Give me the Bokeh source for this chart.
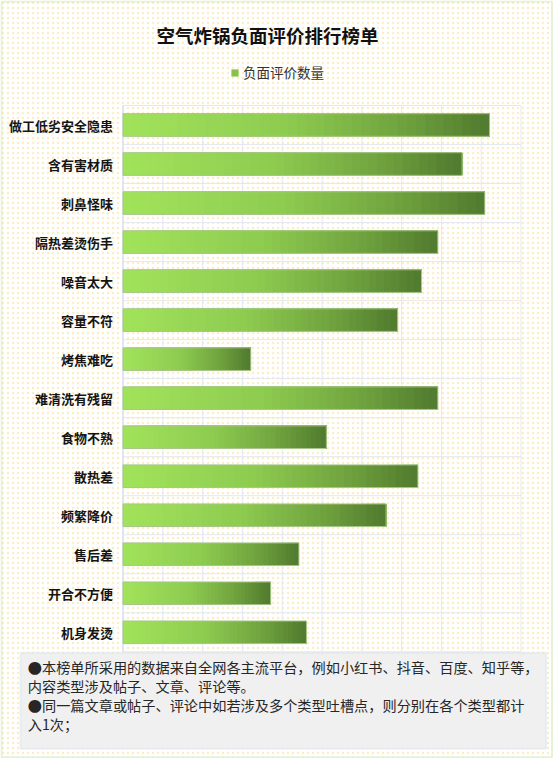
from bokeh.plotting import figure
from bokeh.models import (Range1d, ColumnDataSource, BoxAnnotation, Label, Legend, LegendItem)
from bokeh.core.properties import value
from bokeh.embed import file_html
from bokeh.resources import INLINE

# ---------------- data ----------------
title_text = "空气炸锅负面评价排行榜单"
series_name = "负面评价数量"
categories = ["做工低劣安全隐患", "含有害材质", "刺鼻怪味", "隔热差烫伤手", "噪音太大",
              "容量不符", "烤焦难吃", "难清洗有残留", "食物不熟", "散热差",
              "频繁降价", "售后差", "开合不方便", "机身发烫"]
values = [92.1, 85.2, 90.9, 79.1, 75.0, 69.0, 32.1, 79.1, 51.1, 74.1, 66.1, 44.2, 37.1, 46.1]
x_ticks = [0, 10, 20, 30, 40, 50, 60, 70, 80, 90, 100]
notes = ["●本榜单所采用的数据来自全网各主流平台，例如小红书、抖音、百度、知乎等，",
         "内容类型涉及帖子、文章、评论等。",
         "●同一篇文章或帖子、评论中如若涉及多个类型吐槽点，则分别在各个类型都计",
         "入1次；"]

# ---------------- layout (page pixels) ----------------
W, H = 553, 758          # canvas size
OX, OY = 0, 0            # page position of the canvas origin
PX0, PX1 = 122.5, 520.5  # page x of first / last value gridline
PY_TOP, PY_BOT = 105.0, 651.3  # page y of plot area top / bottom

n = len(categories)
sx = (PX1 - PX0) / (x_ticks[-1] - x_ticks[0])
sy = (PY_BOT - PY_TOP) / n
x_range = Range1d(x_ticks[0] + (OX - PX0) / sx, x_ticks[0] + (OX + W - PX0) / sx)
y_range = Range1d((PY_BOT - (OY + H)) / sy, (PY_BOT - OY) / sy)

y_pos = [n - 0.5 - j for j in range(n)]

# gradient colours (left light -> right dark)
stops = [(0.0, "#a2e35b"), (0.45, "#8dcb50"), (0.75, "#71a43f"), (1.0, "#507a2e")]


def hex2rgb(h):
    h = h.lstrip("#")
    return [int(h[i:i + 2], 16) for i in (0, 2, 4)]


def grad(t):
    for (t0, c0), (t1, c1) in zip(stops[:-1], stops[1:]):
        if t <= t1:
            f = (t - t0) / (t1 - t0) if t1 > t0 else 0
            a, b = hex2rgb(c0), hex2rgb(c1)
            return "#%02x%02x%02x" % tuple(round(a[k] + (b[k] - a[k]) * f) for k in range(3))
    return stops[-1][1]


N = 40
seg = dict(y=[], left=[], right=[], color=[])
for yv, v in zip(y_pos, values):
    for i in range(N):
        seg["y"].append(yv)
        seg["left"].append(v * i / N)
        seg["right"].append(v)
        seg["color"].append(grad((i + 0.5) / N))
seg_src = ColumnDataSource(seg)
bar_src = ColumnDataSource(dict(y=y_pos, right=values, cat=categories))

p = figure(width=W, height=H, x_range=x_range, y_range=y_range,
           output_backend="svg", toolbar_location=None,
           x_axis_location=None, y_axis_location=None, min_border=0)
p.grid.visible = False
p.border_fill_color = "white"
p.background_fill_color = "white"
p.outline_line_color = None


def to_sx(px):
    return px - OX


def to_sy(py):
    return (OY + H) - py


B_L, B_R, B_T, B_B = 1, min(to_sx(551.5), W - 1), min(to_sy(1), H - 1), max(to_sy(756.7), 1)

# dotted background
p.add_layout(BoxAnnotation(left=B_L, right=B_R, bottom=B_B, top=B_T,
                           left_units="screen", right_units="screen",
                           bottom_units="screen", top_units="screen",
                           fill_alpha=0, line_alpha=0,
                           hatch_pattern="dot", hatch_color="#f8e29c", hatch_alpha=0.6,
                           hatch_scale=5, hatch_weight=0.9, level="image"))

# grid lines
grid_color = "#e6e8ef"
p.segment(x0=x_ticks, y0=0, x1=x_ticks, y1=n, line_color=grid_color, line_width=1)
rows = list(range(n + 1))
p.segment(x0=x_ticks[0], y0=rows, x1=x_ticks[-1], y1=rows, line_color=grid_color, line_width=1)
p.segment(x0=x_ticks[0], y0=0, x1=x_ticks[0], y1=n, line_color="#d6dff0", line_width=1.2)

# bars (gradient made of overlapping slices)
r = p.hbar(y="y", left="left", right="right", height=0.58, fill_color="color",
           line_color=None, source=seg_src)
p.hbar(y="y", left=0, right="right", height=0.58, fill_color=None,
       line_color="#a9c68e", line_width=1, source=bar_src)

# category labels
p.text(x=x_ticks[0], y="y", text="cat", source=bar_src, x_offset=-10,
       text_align="right", text_baseline="middle",
       text_font=value("Noto Sans CJK SC"), text_font_style="bold",
       text_font_size="13px", text_color="#141414")

# legend
legend = Legend(items=[LegendItem(label=series_name, renderers=[r], index=N // 2)],
                location=(to_sx(230), to_sy(82.3)), orientation="horizontal",
                glyph_width=9, glyph_height=9, label_standoff=4,
                label_text_font="Noto Sans CJK SC", label_text_font_size="13.5px",
                label_text_color="#333333", label_height=9,
                padding=0, margin=0, spacing=0,
                border_line_alpha=0, background_fill_alpha=0)
p.add_layout(legend)

# title
p.add_layout(Label(x=to_sx(267), y=to_sy(34), x_units="screen", y_units="screen",
                   text=title_text, text_font="Noto Sans CJK SC", text_font_style="bold",
                   text_font_size="18.5px", text_color="#111111",
                   text_align="center", text_baseline="middle"))

# note box
p.add_layout(BoxAnnotation(left=to_sx(20), right=to_sx(545.7), top=to_sy(652.3), bottom=to_sy(748.3),
                           left_units="screen", right_units="screen",
                           bottom_units="screen", top_units="screen",
                           fill_color="#f0f0f0", fill_alpha=1,
                           line_color="#c3d7ee", line_width=2, level="annotation"))
note_y = [666.7, 685.8, 704.6, 723.3]
for t, yy in zip(notes, note_y):
    p.add_layout(Label(x=to_sx(27.3), y=to_sy(yy), x_units="screen", y_units="screen", text=t,
                       text_font="Noto Sans CJK SC", text_font_size="14.2px",
                       text_color="#262626", text_align="left", text_baseline="middle"))

# outer border
p.add_layout(BoxAnnotation(left=B_L, right=B_R, top=B_T, bottom=B_B,
                           left_units="screen", right_units="screen",
                           bottom_units="screen", top_units="screen",
                           fill_alpha=0, line_color="#a8d878", line_width=2,
                           level="overlay"))

open("out.html", "w").write(file_html(p, INLINE))
